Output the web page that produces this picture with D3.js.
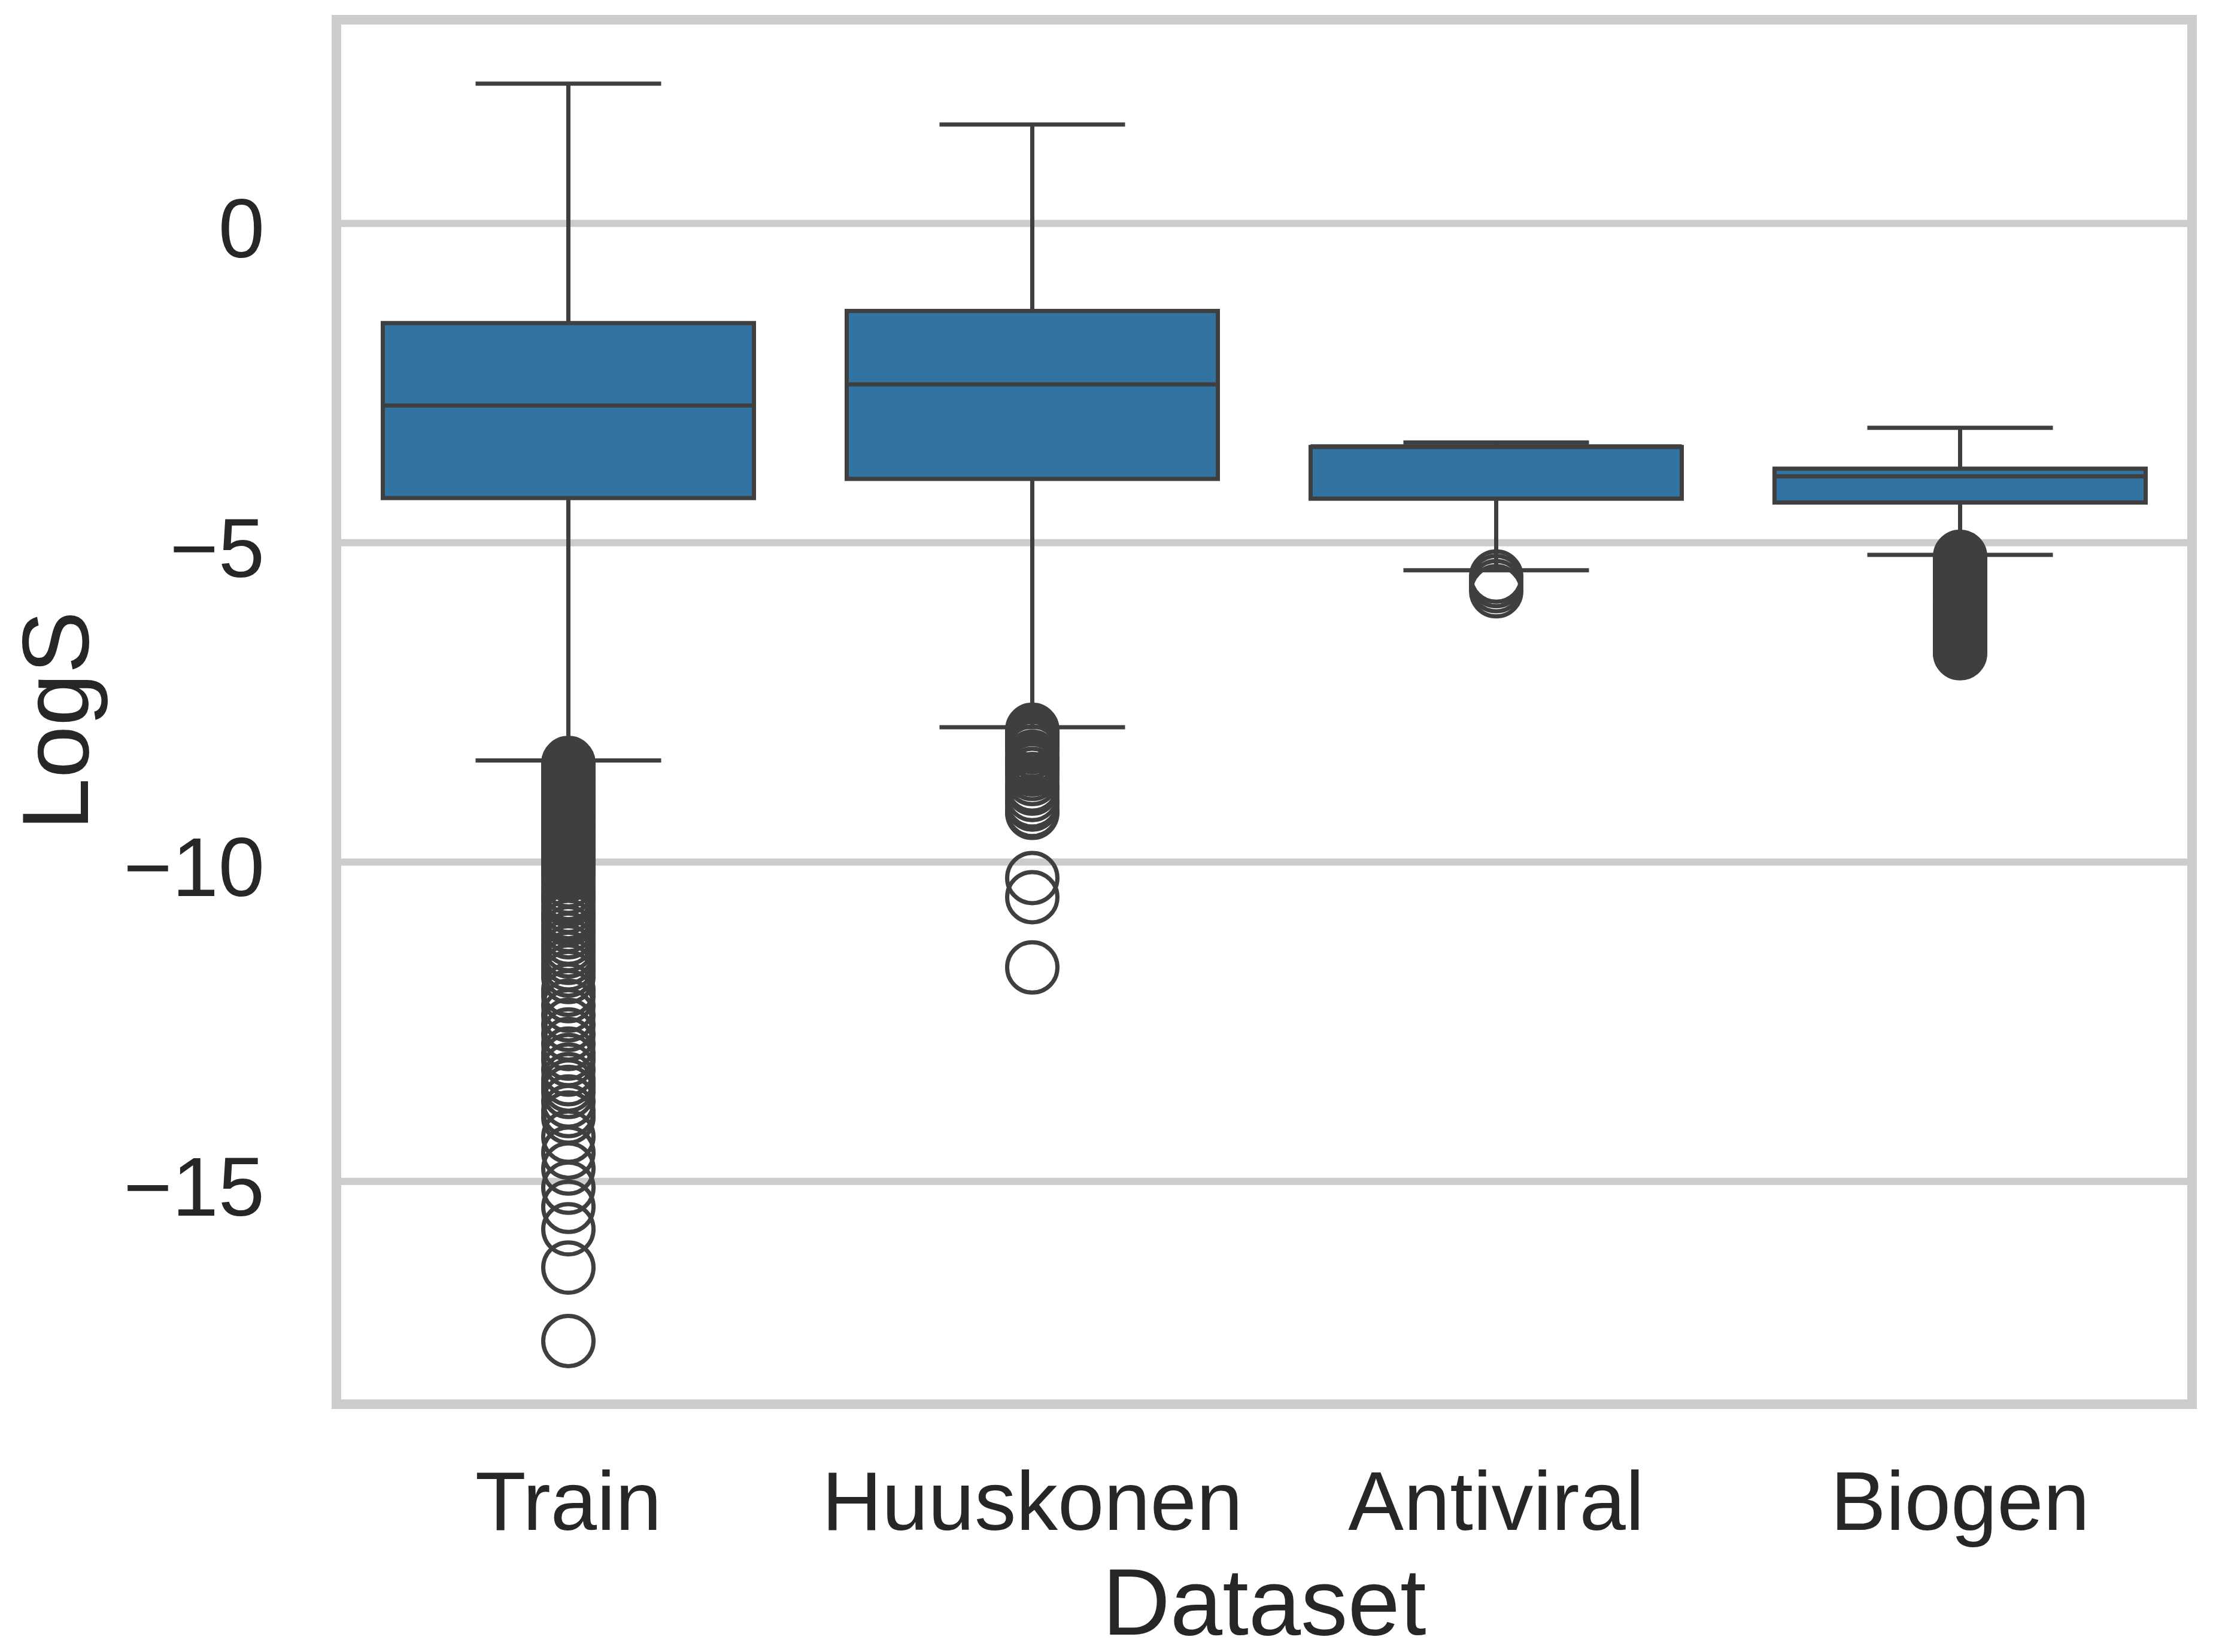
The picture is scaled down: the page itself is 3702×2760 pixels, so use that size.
<!DOCTYPE html>
<html>
<head>
<meta charset="utf-8">
<script src="https://cdn.jsdelivr.net/npm/d3@7"></script>
<style>
  body { margin: 0; background: #fff; }
  svg { display: block; }
</style>
</head>
<body>
<div id="chart"></div>
<script>
// box stats, one entry per dataset
const datasets = ['Train', 'Huuskonen', 'Antiviral', 'Biogen'];
const whiskerHigh = [2.19, 1.55, -3.43, -3.20];
const q3 = [-1.56, -1.37, -3.50, -3.84];
const medians = [-2.85, -2.52, -3.49, -3.96];
const q1 = [-4.30, -4.00, -4.31, -4.37];
const whiskerLow = [-8.41, -7.89, -5.43, -5.19];

// fliers
const trainOutliers = [
    -8.45, -8.5, -8.55, -8.6, -8.65, -8.7, -8.75, -8.8, -8.85, -8.9, -8.95,
    -9.0, -9.05, -9.1, -9.15, -9.2, -9.25, -9.3, -9.35, -9.4, -9.45, -9.5,
    -9.55, -9.6, -9.65, -9.7, -9.75, -9.8, -9.85, -9.9, -9.95, -10.0, -10.05,
    -10.1, -10.15, -10.2, -10.3, -10.4, -10.5, -10.55, -10.6, -10.7, -10.8,
    -10.85, -10.9, -11.0, -11.1, -11.2, -11.3, -11.4, -11.5, -11.6, -11.7,
    -11.8, -12.0, -12.1, -12.25, -12.4, -12.55, -12.7, -12.85, -13.0, -13.1,
    -13.25, -13.4, -13.5, -13.6, -13.75, -13.9, -14.0, -14.3, -14.55, -14.8,
    -15.1, -15.4, -15.75, -16.35, -17.5
];
const huuskonenOutliers = [
    -7.93, -7.96, -8.0, -8.05, -8.1, -8.15, -8.2, -8.27, -8.35, -8.4, -8.45,
    -8.5, -8.55, -8.62, -8.7, -8.8, -8.85, -8.95, -9.05, -9.1, -9.2, -9.23,
    -10.25, -10.55, -11.65
];
const antiviralOutliers = [-5.53, -5.6, -5.68, -5.76];
const biogenOutliers = [
    -5.22, -5.25, -5.3, -5.35, -5.4, -5.45, -5.5, -5.55, -5.6, -5.65, -5.7,
    -5.75, -5.8, -5.85, -5.9, -5.95, -6.0, -6.05, -6.1, -6.15, -6.2, -6.25,
    -6.3, -6.35, -6.4, -6.45, -6.5, -6.55, -6.6, -6.65, -6.7, -6.73
];
const outliers = [trainOutliers, huuskonenOutliers, antiviralOutliers, biogenOutliers];

const yTicks = [0, -5, -10, -15];
const yTickLabels = ['0', '\u22125', '\u221210', '\u221215'];
const xTitle = 'Dataset';
const yTitle = 'LogS';

const width = 3702;
const height = 2760;
const plot = {left: 562, right: 3662, top: 33, bottom: 2346};

const boxFill = '#3274a1';
const lineColor = '#3f3f3f';
const gridColor = '#cccccc';
const font = '"Liberation Sans", Arial, sans-serif';

const svg = d3.select('#chart').append('svg')
    .attr('width', width)
    .attr('height', height)
    .attr('viewBox', [0, 0, width, height]);

const x = d3.scaleBand()
    .domain(datasets)
    .range([plot.left, plot.right])
    .padding(0);

const y = d3.scaleLinear()
    .domain([-18.49, 3.19])
    .range([plot.bottom, plot.top]);

const boxW = x.bandwidth() * 0.8;
const capW = boxW / 2;
const cx = d => x(d) + x.bandwidth() / 2;

// horizontal grid only, like seaborn whitegrid on a categorical x
svg.append('g')
    .selectAll('line')
    .data(yTicks)
    .join('line')
      .attr('x1', plot.left)
      .attr('x2', plot.right)
      .attr('y1', d => y(d))
      .attr('y2', d => y(d))
      .attr('stroke', gridColor)
      .attr('stroke-width', 12);

const rows = datasets.map((name, i) => ({
    name, hi: whiskerHigh[i], q3: q3[i], med: medians[i], q1: q1[i], lo: whiskerLow[i], fliers: outliers[i]
}));

const g = svg.append('g')
    .selectAll('g')
    .data(rows)
    .join('g');

// whiskers
g.append('line')
    .attr('x1', d => cx(d.name)).attr('x2', d => cx(d.name))
    .attr('y1', d => y(d.hi)).attr('y2', d => y(d.q3))
    .attr('stroke', lineColor).attr('stroke-width', 7);
g.append('line')
    .attr('x1', d => cx(d.name)).attr('x2', d => cx(d.name))
    .attr('y1', d => y(d.q1)).attr('y2', d => y(d.lo))
    .attr('stroke', lineColor).attr('stroke-width', 7);

// caps
g.selectAll('line.cap')
    .data(d => [d.hi, d.lo].map(v => ({name: d.name, v})))
    .join('line')
      .attr('class', 'cap')
      .attr('x1', d => cx(d.name) - capW / 2)
      .attr('x2', d => cx(d.name) + capW / 2)
      .attr('y1', d => y(d.v))
      .attr('y2', d => y(d.v))
      .attr('stroke', lineColor)
      .attr('stroke-width', 7);

// boxes
g.append('rect')
    .attr('x', d => cx(d.name) - boxW / 2)
    .attr('y', d => y(d.q3))
    .attr('width', boxW)
    .attr('height', d => y(d.q1) - y(d.q3))
    .attr('fill', boxFill)
    .attr('stroke', lineColor)
    .attr('stroke-width', 7);

// medians
g.append('line')
    .attr('x1', d => cx(d.name) - boxW / 2)
    .attr('x2', d => cx(d.name) + boxW / 2)
    .attr('y1', d => y(d.med))
    .attr('y2', d => y(d.med))
    .attr('stroke', lineColor)
    .attr('stroke-width', 7);

// fliers
g.selectAll('circle')
    .data(d => d.fliers.map(v => ({name: d.name, v})))
    .join('circle')
      .attr('cx', d => cx(d.name))
      .attr('cy', d => y(d.v))
      .attr('r', 42)
      .attr('fill', 'none')
      .attr('stroke', lineColor)
      .attr('stroke-width', 7);

// frame
svg.append('rect')
    .attr('x', plot.left)
    .attr('y', plot.top)
    .attr('width', plot.right - plot.left)
    .attr('height', plot.bottom - plot.top)
    .attr('fill', 'none')
    .attr('stroke', gridColor)
    .attr('stroke-width', 16);

// tick labels
svg.append('g')
    .selectAll('text')
    .data(yTicks)
    .join('text')
      .attr('x', 442)
      .attr('y', d => y(d) + 57)
      .attr('text-anchor', 'end')
      .style('font', `139px ${font}`)
      .attr('fill', '#262626')
      .text((d, i) => yTickLabels[i]);

svg.append('g')
    .selectAll('text')
    .data(datasets)
    .join('text')
      .attr('x', d => cx(d))
      .attr('y', 2556)
      .attr('text-anchor', 'middle')
      .style('font', `139px ${font}`)
      .attr('fill', '#262626')
      .text(d => d);

// axis titles
svg.append('text')
    .attr('x', (plot.left + plot.right) / 2)
    .attr('y', 2731)
    .attr('text-anchor', 'middle')
    .style('font', `157px ${font}`)
    .attr('fill', '#262626')
    .text(xTitle);

svg.append('text')
    .attr('transform', 'translate(147,1204) rotate(-90)')
    .attr('text-anchor', 'middle')
    .style('font', `157px ${font}`)
    .attr('fill', '#262626')
    .text(yTitle);
</script>
</body>
</html>
